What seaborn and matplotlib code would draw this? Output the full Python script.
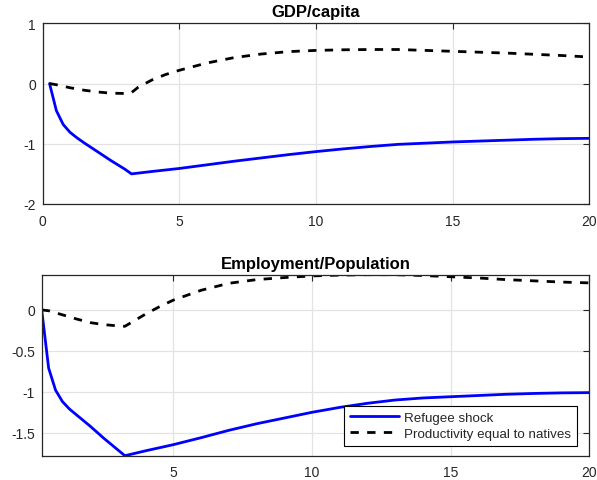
import matplotlib
matplotlib.use("Agg")
import matplotlib.pyplot as plt
import seaborn as sns
from matplotlib.ticker import FuncFormatter

# Impulse responses (years after the shock)
gdp_x_refugee = [0.25, 0.5, 0.75, 1.0, 1.25, 1.5, 2.0, 2.5, 3.0, 3.25, 4, 5, 6, 7, 8, 9,
                 10, 11, 12, 13, 14, 15, 16, 17, 18, 19, 20]
gdp_refugee = [0.0, -0.45, -0.68, -0.81, -0.90, -0.98, -1.13, -1.28, -1.42, -1.50, -1.46,
               -1.41, -1.35, -1.29, -1.235, -1.18, -1.13, -1.085, -1.045, -1.01, -0.99,
               -0.97, -0.955, -0.94, -0.925, -0.915, -0.91]

gdp_x_equal = [0.25, 0.5, 1.0, 1.5, 2.0, 2.5, 3.0, 3.25, 3.5, 4.0, 4.5, 5, 6, 7, 8, 9,
               10, 11, 12, 13, 14, 15, 16, 17, 18, 19, 20]
gdp_equal = [0.0, -0.02, -0.07, -0.11, -0.14, -0.16, -0.165, -0.15, -0.06, 0.06, 0.15,
             0.22, 0.34, 0.43, 0.49, 0.53, 0.55, 0.56, 0.565, 0.565, 0.55, 0.535, 0.52,
             0.505, 0.485, 0.465, 0.44]

emp_x_refugee = [0.25, 0.5, 0.75, 1.0, 1.25, 1.5, 2.0, 2.5, 3.0, 3.25, 4, 5, 6, 7, 8, 9,
                 10, 11, 12, 13, 14, 15, 16, 17, 18, 19, 20]
emp_refugee = [0.0, -0.71, -0.98, -1.12, -1.21, -1.28, -1.42, -1.57, -1.71, -1.78, -1.72,
               -1.645, -1.56, -1.47, -1.39, -1.32, -1.25, -1.19, -1.14, -1.10, -1.075,
               -1.06, -1.045, -1.03, -1.02, -1.013, -1.01]

emp_x_equal = [0.25, 0.5, 1.0, 1.5, 2.0, 2.5, 3.0, 3.25, 3.5, 4.0, 4.5, 5, 6, 7, 8, 9,
               10, 11, 12, 13, 14, 15, 16, 17, 18, 19, 20]
emp_equal = [0.0, -0.01, -0.06, -0.11, -0.155, -0.18, -0.195, -0.2, -0.15, -0.05, 0.04,
             0.12, 0.24, 0.325, 0.37, 0.395, 0.415, 0.425, 0.43, 0.43, 0.42, 0.405, 0.39,
             0.37, 0.355, 0.34, 0.33]

titles = ["GDP/capita", "Employment/Population"]
labels = ["Refugee shock", "Productivity equal to natives"]
gdp_yticks = [-2, -1, 0, 1]
emp_yticks = [-1.5, -1, -0.5, 0]
gdp_xticks = [0, 5, 10, 15, 20]
emp_xticks = [5, 10, 15, 20]

sns.set_style("white")
plt.rcParams["font.family"] = ["Liberation Sans", "DejaVu Sans"]
plt.rcParams["axes.unicode_minus"] = False

W, H = 597, 481
fig = plt.figure(figsize=(W / 100, H / 100), dpi=100)

axis_color = "#262626"
grid_color = "#e3e3e3"


def box(l, r, t, b):
    return [l / W, 1 - b / H, (r - l) / W, (b - t) / H]


ax1 = fig.add_axes(box(42.7, 589.3, 24.3, 205.0))
ax2 = fig.add_axes(box(41.7, 589.3, 275.7, 456.7))

fmt = FuncFormatter(lambda v, p: f"{v:g}")


def draw(ax, xr, yr, xe, ye, title, xticks, yticks, xlim, ylim):
    sns.lineplot(x=xr, y=yr, ax=ax, color=(0, 0, 1), lw=2.0, sort=False,
                 estimator=None, label=labels[0], legend=False)
    sns.lineplot(x=xe, y=ye, ax=ax, color="black", lw=2.0, sort=False,
                 estimator=None, label=labels[1], legend=False,
                 linestyle=(0, (3, 3)))
    ax.set_xlim(*xlim)
    ax.set_ylim(*ylim)
    ax.set_xticks(xticks)
    ax.set_yticks(yticks)
    ax.xaxis.set_major_formatter(fmt)
    ax.yaxis.set_major_formatter(fmt)
    ax.grid(True, color=grid_color, lw=0.9)
    ax.set_axisbelow(True)
    for s in ax.spines.values():
        s.set_visible(True)
        s.set_color(axis_color)
        s.set_linewidth(0.9)
    ax.tick_params(direction="in", length=4, width=0.8, color=axis_color,
                   labelcolor=axis_color, labelsize=10, top=True, right=True)
    ax.tick_params(axis="x", pad=7)
    ax.tick_params(axis="y", pad=5)
    ax.set_xlabel("")
    ax.set_ylabel("")
    ax.set_title(title, fontsize=12, fontweight="bold", pad=5, color="black")


draw(ax1, gdp_x_refugee, gdp_refugee, gdp_x_equal, gdp_equal, titles[0],
     gdp_xticks, gdp_yticks, (0, 20), (-2, 1))
draw(ax2, emp_x_refugee, emp_refugee, emp_x_equal, emp_equal, titles[1],
     emp_xticks, emp_yticks, (emp_x_refugee[0], 20),
     (min(emp_refugee), max(emp_equal)))

leg = ax2.legend(loc="lower right", bbox_to_anchor=(0.977, 0.055),
                 fontsize=9.6, frameon=True, fancybox=False,
                 edgecolor="black", framealpha=1, handlelength=3.7,
                 handletextpad=0.35, borderpad=0.45, labelspacing=0.25,
                 borderaxespad=0.0)
leg.get_frame().set_linewidth(0.8)

fig.savefig("out.png", dpi=100)
